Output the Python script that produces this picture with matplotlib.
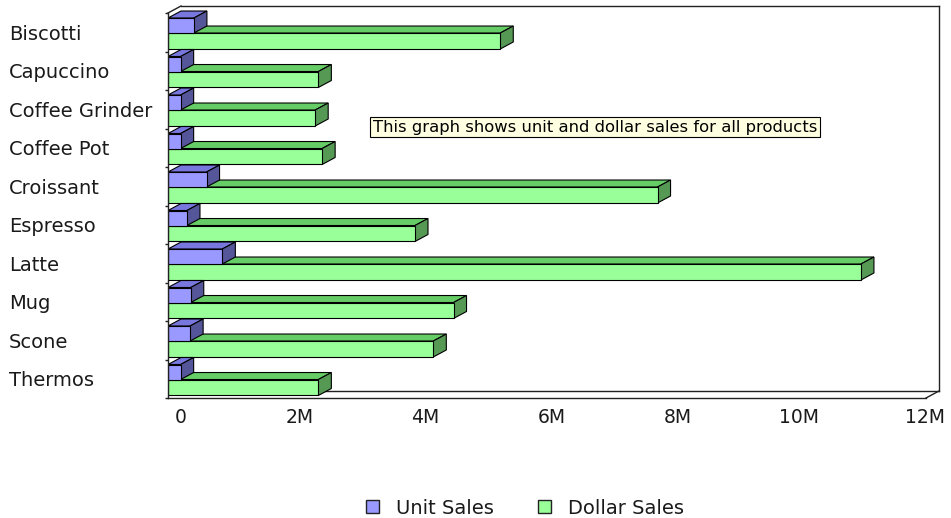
import matplotlib
matplotlib.use("Agg")
import matplotlib.pyplot as plt
import numpy as np
from matplotlib.patches import Polygon, Patch
from matplotlib.transforms import ScaledTranslation

products = ["Biscotti", "Capuccino", "Coffee Grinder", "Coffee Pot", "Croissant",
            "Espresso", "Latte", "Mug", "Scone", "Thermos"]
unit_sales = [0.41e6, 0.20e6, 0.20e6, 0.20e6, 0.61e6, 0.30e6, 0.86e6, 0.36e6, 0.35e6, 0.20e6]
dollar_sales = [5.26e6, 2.38e6, 2.33e6, 2.44e6, 7.75e6, 3.91e6, 10.97e6, 4.52e6, 4.20e6, 2.38e6]
x_ticks = [0, 2e6, 4e6, 6e6, 8e6, 10e6, 12e6]
x_labels = ["0", "2M", "4M", "6M", "8M", "10M", "12M"]

blue = ("#9999ff", "#7777dd", "#555599")
green = ("#99ff99", "#66cc66", "#559955")

fig = plt.figure(figsize=(9.51, 5.18), dpi=100)
ax = fig.add_axes([168/951, 120/518, 771/951, 392/518])

n = len(products)
x_max = 12e6
dx = x_max * 13 / 757   # depth, along x
dy = 7 / 38.5           # depth, along y (slot units)

ax.set_xlim(0, x_max + dx)
ax.set_ylim(n, -dy)
for s in ax.spines.values():
    s.set_visible(False)


def bar3d(y0, y1, w, colors):
    front, top, side = colors
    ax.add_patch(Polygon([(0, y0), (w, y0), (w + dx, y0 - dy), (dx, y0 - dy)],
                         closed=True, fc=top, ec="black", lw=0.8, zorder=1))
    ax.add_patch(Polygon([(w, y0), (w, y1), (w + dx, y1 - dy), (w + dx, y0 - dy)],
                         closed=True, fc=side, ec="black", lw=0.8, zorder=1))
    ax.barh((y0 + y1) / 2, w, height=y1 - y0, color=front, edgecolor="black",
            lw=0.8, zorder=1)


for i in range(n):
    bar3d(i + 0.52, i + 0.935, dollar_sales[i], green)
    bar3d(i + 0.13, i + 0.52, unit_sales[i], blue)

# back wall / floor
lk = dict(color="#222222", lw=1, clip_on=False)
ax.plot([dx, x_max + dx], [n - dy, n - dy], zorder=0.5, **lk)
ax.plot([x_max + dx, x_max + dx], [n - dy, -dy], zorder=0.5, **lk)
ax.plot([dx, x_max + dx], [-dy, -dy], zorder=0.5, **lk)
# front edges
ax.plot([0, 0], [0, n], zorder=3, **lk)
ax.plot([0, x_max], [n, n], zorder=3, **lk)
ax.plot([x_max, x_max + dx], [n, n - dy], zorder=3, **lk)
ax.plot([0, dx], [0, -dy], zorder=3, **lk)

# y axis
ax.set_yticks([i + 0.5 for i in range(n)], labels=products)
ax.set_yticks(range(n + 1), minor=True)
ax.tick_params(axis="y", which="major", length=0, pad=114.5, labelsize=14)
ax.tick_params(axis="y", which="minor", length=2.5, width=1, color="#222222")
for lab in ax.get_yticklabels():
    lab.set_ha("left")
    lab.set_color("#1a1a1a")

# x axis
ax.set_xticks(x_ticks, labels=x_labels)
ax.tick_params(axis="x", length=0, pad=7, labelsize=13.5)
shift = ScaledTranslation(0.19, 0, fig.dpi_scale_trans)
for lab in ax.get_xticklabels():
    lab.set_ha("right")
    lab.set_color("#1a1a1a")
    lab.set_transform(lab.get_transform() + shift)

fig.text(595/951, 1 - 127/518, "This graph shows unit and dollar sales for all products",
         ha="center", va="center", fontsize=11.8, color="black",
         bbox=dict(boxstyle="square,pad=0.15", fc="#ffffe1", ec="black", lw=0.8))

handles = [Patch(fc=blue[0], ec="#222222", lw=1, label="Unit Sales"),
           Patch(fc=green[0], ec="#222222", lw=1, label="Dollar Sales")]
fig.legend(handles=handles, loc="center", bbox_to_anchor=(525/951, 1 - 508/518),
           ncol=2, frameon=False, fontsize=14, handlelength=0.67, handleheight=0.67,
           handletextpad=0.88, columnspacing=2.3, labelcolor="#1a1a1a")

fig.savefig("out.png", dpi=100)
